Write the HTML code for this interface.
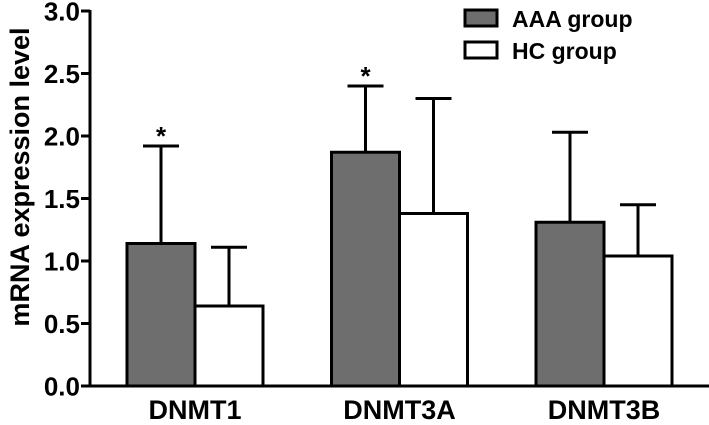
<!DOCTYPE html>
<html><head><meta charset="utf-8"><style>
html,body{margin:0;padding:0;background:#fff;}
svg text{font-family:"Liberation Sans",Arial,sans-serif;font-weight:bold;fill:#000;}
</style></head><body>
<svg id="chart" width="709" height="420" viewBox="0 0 709 420" xmlns="http://www.w3.org/2000/svg">
<g id="axes"></g><g id="bars"></g>
<g>
 <rect x="465" y="10" width="32" height="16" fill="#6e6e6e" stroke="#000" stroke-width="3"/>
 <text x="512" y="27" font-size="23">AAA group</text>
 <rect x="465" y="42" width="32" height="16" fill="#fff" stroke="#000" stroke-width="3"/>
 <text x="512" y="59" font-size="23">HC group</text>
</g>
<text transform="translate(29,177) rotate(-90)" text-anchor="middle" font-size="27">mRNA expression level</text>
</svg>
<script>
const categories=["DNMT1","DNMT3A","DNMT3B"];
const aaaMeans=[1.14,1.87,1.31];
const aaaErr=[0.78,0.53,0.72];
const hcMeans=[0.64,1.38,1.04];
const hcErr=[0.47,0.92,0.41];
const significant=[true,true,false];
const yTicks=[0,0.5,1.0,1.5,2.0,2.5,3.0];
const tickLabels=["0.0","0.5","1.0","1.5","2.0","2.5","3.0"];
const NS="http://www.w3.org/2000/svg";
const y0=386,pxPer=125,axisX=90,xEnd=709;
const y=v=>y0-v*pxPer;
const groupC=i=>195+i*204.5;
const bw=68;
function mk(tag,attrs,parent){const e=document.createElementNS(NS,tag);for(const k in attrs)e.setAttribute(k,attrs[k]);parent.appendChild(e);return e;}
const axes=document.getElementById('axes'),bars=document.getElementById('bars');
let l=mk('line',{x1:axisX,y1:y(3)-1,x2:axisX,y2:y0+1.5,stroke:'#000','stroke-width':3},axes);


l=mk('line',{x1:axisX-1.5,y1:y0,x2:xEnd,y2:y0,stroke:'#000','stroke-width':3},axes);


yTicks.forEach((v,i)=>{
 const t=mk('line',{x1:axisX-9,y1:y(v),x2:axisX,y2:y(v),stroke:'#000','stroke-width':3},axes);
 
 
 const tx=mk('text',{x:80,y:y(v)+9.5,'text-anchor':'end','font-size':26},axes);
 tx.textContent=tickLabels[i];
 
 
});
function bar(xl,mean,err,fill,name){
 const e=mk('line',{x1:xl+bw/2,y1:y(mean),x2:xl+bw/2,y2:y(mean+err),stroke:'#000','stroke-width':3},bars);
 
 
 const c=mk('line',{x1:xl+bw/2-18,y1:y(mean+err),x2:xl+bw/2+18,y2:y(mean+err),stroke:'#000','stroke-width':3},bars);
 
 
 const r=mk('rect',{x:xl,y:y(mean),width:bw,height:y0-y(mean),fill:fill,stroke:'#000','stroke-width':3},bars);
 
 
}
categories.forEach((c,i)=>{
 const gc=groupC(i);
 bar(gc-bw,aaaMeans[i],aaaErr[i],'#6e6e6e','bar-aaa-'+c.toLowerCase());
 bar(gc,hcMeans[i],hcErr[i],'#fff','bar-hc-'+c.toLowerCase());
 if(significant[i]){
  const s=mk('text',{x:gc-bw/2,y:y(aaaMeans[i]+aaaErr[i])-1,'text-anchor':'middle','font-size':26},bars);
  s.textContent='*';
  
  
 }
 const t=mk('text',{x:gc,y:419,'text-anchor':'middle','font-size':27},axes);
 t.textContent=c;
 
 
});
</script>
</body></html>
